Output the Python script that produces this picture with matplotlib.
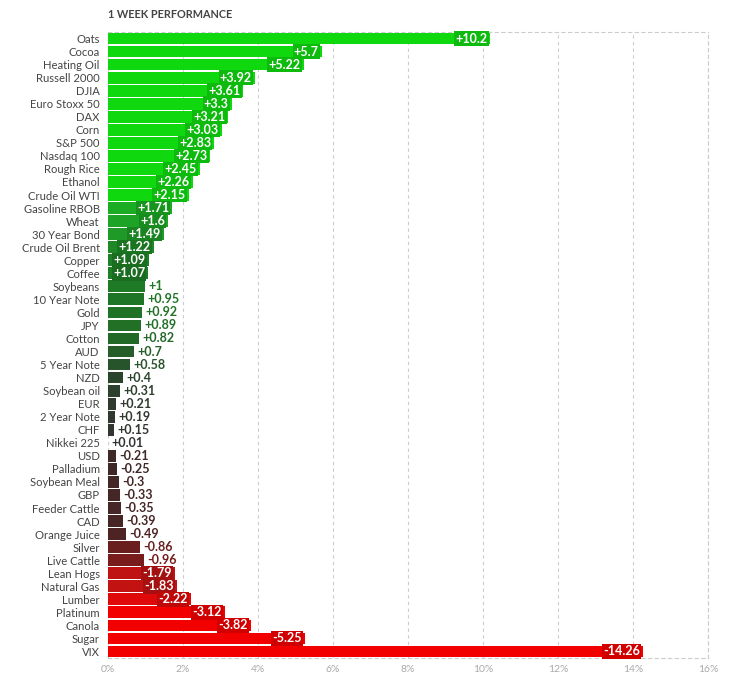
import matplotlib
matplotlib.use("Agg")
import matplotlib.pyplot as plt
import numpy as np
from matplotlib.colors import to_rgb

plt.rcParams['font.family'] = ['Lato', 'DejaVu Sans']

categories = ["Oats", "Cocoa", "Heating Oil", "Russell 2000", "DJIA", "Euro Stoxx 50", "DAX",
              "Corn", "S&P 500", "Nasdaq 100", "Rough Rice", "Ethanol", "Crude Oil WTI",
              "Gasoline RBOB", "Wheat", "30 Year Bond", "Crude Oil Brent", "Copper", "Coffee",
              "Soybeans", "10 Year Note", "Gold", "JPY", "Cotton", "AUD", "5 Year Note", "NZD",
              "Soybean oil", "EUR", "2 Year Note", "CHF", "Nikkei 225", "USD", "Palladium",
              "Soybean Meal", "GBP", "Feeder Cattle", "CAD", "Orange Juice", "Silver",
              "Live Cattle", "Lean Hogs", "Natural Gas", "Lumber", "Platinum", "Canola",
              "Sugar", "VIX"]
values = [10.2, 5.7, 5.22, 3.92, 3.61, 3.3, 3.21, 3.03, 2.83, 2.73, 2.45, 2.26, 2.15,
          1.71, 1.6, 1.49, 1.22, 1.09, 1.07, 1.0, 0.95, 0.92, 0.89, 0.82, 0.7, 0.58, 0.4,
          0.31, 0.21, 0.19, 0.15, 0.01, -0.21, -0.25, -0.3, -0.33, -0.35, -0.39, -0.49,
          -0.86, -0.96, -1.79, -1.83, -2.22, -3.12, -3.82, -5.25, -14.26]
xticks = [0, 2, 4, 6, 8, 10, 12, 14, 16]
xtick_labels = ["0%", "2%", "4%", "6%", "8%", "10%", "12%", "14%", "16%"]

pos_anchor_v = [0.0, 0.15, 0.4, 0.7, 1.0, 1.5, 1.8, 2.1]
pos_anchor_c = ["#333333", "#313631", "#2b452c", "#255e28", "#1e7a25", "#1f9a28", "#18b41f", "#0fd80f"]
neg_anchor_v = [0.0, 0.21, 0.49, 0.86, 0.96, 1.8, 2.2, 3.0]
neg_anchor_c = ["#333333", "#3e2828", "#4e2323", "#6a1f1f", "#781c1c", "#c01313", "#de0909", "#f20000"]


def color_for(v):
    if v >= 0:
        av, ac = pos_anchor_v, pos_anchor_c
    else:
        av, ac = neg_anchor_v, neg_anchor_c
    rgb = np.array([to_rgb(c) for c in ac])
    a = abs(v)
    return tuple(np.interp(a, av, rgb[:, k]) for k in range(3))


fig = plt.figure(figsize=(7.41, 6.87), dpi=100)
ax = fig.add_axes([108 / 741, 1 - 658 / 687, 600 / 741, (658 - 32) / 687])

y = np.arange(len(categories))
mags = [abs(v) for v in values]
cols = [color_for(v) for v in values]
ax.barh(y, mags, height=0.9, color=cols, zorder=2)

for yi, v, m, c in zip(y, values, mags, cols):
    txt = f"{v:+g}"
    if m >= 1.05:
        dark = tuple(ch * 0.86 for ch in c)
        ax.text(m - 0.08, yi, txt, ha='right', va='center', color='white',
                fontsize=9, fontweight='bold', zorder=3,
                bbox=dict(boxstyle='square,pad=0.1', facecolor=dark, edgecolor='none'))
    else:
        ax.text(m + 0.09, yi, txt, ha='left', va='center', color=c,
                fontsize=9, fontweight='bold', zorder=3)

ax.set_ylim(len(categories) - 0.5, -0.5)
ax.set_xlim(0, 16)
ax.set_yticks(y)
ax.set_yticklabels(categories, fontsize=8.1, color='#444444')
ax.set_xticks(xticks)
ax.set_xticklabels(xtick_labels, fontsize=7.5, color='#aaaaaa')
ax.tick_params(axis='both', length=0, pad=5)
ax.tick_params(axis='y', pad=6)

ax.grid(axis='x', color='#cccccc', linestyle=(0, (3, 3)), linewidth=0.8, zorder=0)
for s in ['top', 'right', 'bottom']:
    ax.spines[s].set_color('#cccccc')
    ax.spines[s].set_linestyle((0, (3, 3)))
    ax.spines[s].set_linewidth(0.8)
ax.spines['left'].set_visible(False)

fig.text(108 / 741, 1 - 15 / 687, "1 WEEK PERFORMANCE", fontsize=7.8, fontweight='bold',
         color='#444444', ha='left', va='center')

fig.savefig("out.png", dpi=100)
